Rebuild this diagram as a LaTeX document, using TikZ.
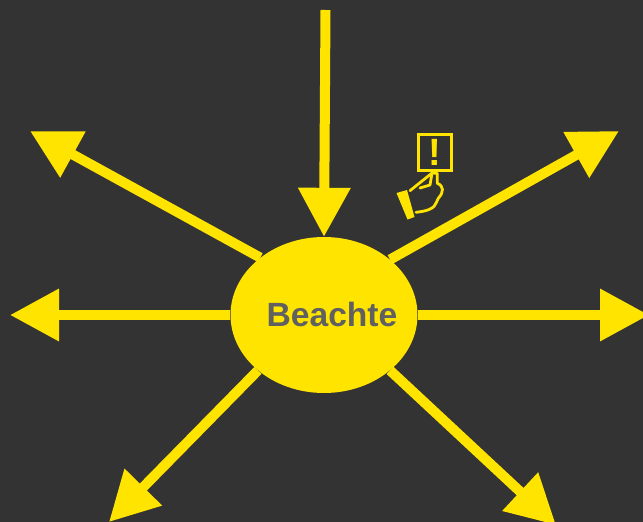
\documentclass[tikz,border=0pt]{standalone}
\usepackage{fontspec}
\setmainfont{Liberation Sans}
\usetikzlibrary{positioning,arrows.meta,shapes.geometric}

\begin{document}
\begin{tikzpicture}[x=1pt,y=-1pt]
  % Colours
  \definecolor{fondsombre}{RGB}{51,51,51}
  \definecolor{jaune}{RGB}{255,228,0}
  \definecolor{grisfonce}{RGB}{96,96,96}
  \tikzset{
    ray/.style={draw=jaune, line width=10pt, -{Triangle[length=49pt,width=50pt]}},
    iconline/.style={draw=jaune, line width=2.8pt, line cap=round, line join=round}
  }

  % Background
  \fill[fondsombre] (0,0) rectangle (643,522);
  \clip (0,0) rectangle (643,522);

  % Central ellipse and its label
  \node[ellipse, fill=jaune, minimum width=187pt, minimum height=156pt, inner sep=0pt] (beachte) at (324,315) {};
  \node[font=\fontsize{33.6}{36}\selectfont\bfseries, text=grisfonce, xshift=8pt, yshift=0.8pt] (label) at (beachte.center) {Beachte};

  % Free ends of the arrows
  \coordinate (top) at (325.5,10);
  \coordinate (nw) at (30,131);
  \coordinate (ne) at (619,131);
  \coordinate (w) at (10,315);
  \coordinate (e) at (649,315);
  \coordinate (sw) at (109,522);
  \coordinate (se) at (556,525);

  % Arrows
  \draw[ray] (top) -- (beachte.north);
  \draw[ray] (beachte.138) -- (nw);
  \draw[ray] (beachte.40) -- (ne);
  \draw[ray] (beachte.west) -- (w);
  \draw[ray] (beachte.east) -- (e);
  \draw[ray] (beachte.220) -- (sw);
  \draw[ray] (beachte.320) -- (se);

  % Warning box held by the hand
  \node[draw=jaune, line width=3pt, minimum width=33pt, minimum height=36pt, inner sep=0pt, text=jaune, font=\fontsize{38}{38}\selectfont\bfseries] (warn) at (434.5,152.5) {!};
  \fill[jaune] (396.5,193) -- (407,190) -- (414.5,217) -- (407.5,219.5) -- cycle;
  \draw[iconline] (410,190.7) -- (426.7,177.3) -- (431.7,173.3) -- (437.3,173.3) -- (437.3,183.3)
    .. controls (444,186) and (444,192) .. (438.3,198.3)
    .. controls (435,203) and (438,210) .. (416,212.3);
  \draw[iconline] (420,188) -- (430,185) -- (431.7,175);
\end{tikzpicture}
\end{document}
